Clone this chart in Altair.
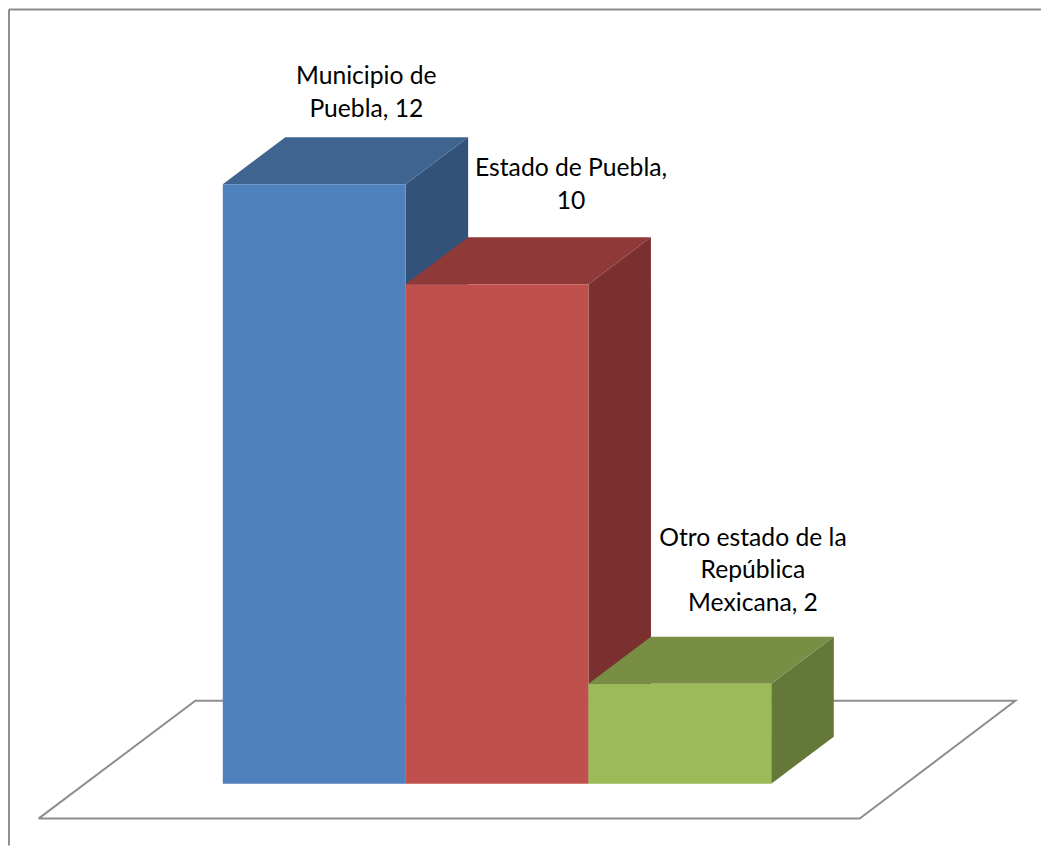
import altair as alt
import pandas as pd

# Series values
categories = ["Municipio de Puebla", "Estado de Puebla", "Otro estado de la República Mexicana"]
values = [12, 10, 2]
label_lines = ["Municipio de\nPuebla, 12", "Estado de Puebla,\n10", "Otro estado de la\nRepública\nMexicana, 2"]

# Face colours for each column: front, top, side
front_colors = ["#4F81BD", "#C0504D", "#9BBB59"]
top_colors = ["#3F648F", "#8F3A38", "#778E44"]
side_colors = ["#32527A", "#7A302F", "#64783A"]

# Oblique projection, in data units (column widths across, value units up)
DEPTH_X = 0.342
DEPTH_Y = 0.94

# Label anchors relative to each column's top front corner (first text line)
label_shift_x = [0.285, 0.405, 0.40]
label_shift_y = [2.14, 2.30, 2.90]

# Floor outline, in data units
floor_x = [-1.008, -0.15, 4.335, 3.484, -1.008]
floor_y = [-0.70, 1.66, 1.66, -0.70, -0.70]

WIDTH, HEIGHT = 1042, 846
PX_X, PX_Y = 183.0, 50.0
x_scale = alt.Scale(domain=[-223 / PX_X, (WIDTH - 223) / PX_X], nice=False, zero=False)
y_scale = alt.Scale(domain=[-(HEIGHT - 784) / PX_Y, 784 / PX_Y], nice=False, zero=False)


def X(field):
    return alt.X(field, type="quantitative", scale=x_scale, axis=None, title=None)


def Y(field):
    return alt.Y(field, type="quantitative", scale=y_scale, axis=None, title=None)


layers = []

# Chart frame: only the top and left edges fall inside the page
frame_color = "#8E8E8E"
layers.append(alt.Chart(pd.DataFrame({"a": [0]})).mark_rule(color=frame_color, strokeWidth=2).encode(
    x=alt.value(9), x2=alt.value(WIDTH), y=alt.value(9)))
layers.append(alt.Chart(pd.DataFrame({"a": [0]})).mark_rule(color=frame_color, strokeWidth=2).encode(
    x=alt.value(9), y=alt.value(9), y2=alt.value(HEIGHT)))

# Floor
floor = pd.DataFrame({"x": floor_x, "y": floor_y, "o": range(len(floor_x))})
layers.append(alt.Chart(floor).mark_line(color=frame_color, strokeWidth=2, strokeJoin="miter").encode(
    x=X("x"), y=Y("y"), order=alt.Order("o:Q")))

# Columns, drawn left to right so each one overlaps the previous side face
for i, v in enumerate(values):
    side = pd.DataFrame({
        "x": [i + 1, i + 1 + DEPTH_X],
        "top": [v, v + DEPTH_Y],
        "bottom": [0, DEPTH_Y],
    })
    layers.append(alt.Chart(side).mark_area(color=side_colors[i], orient="vertical").encode(
        x=X("x"), y=Y("top"), y2=alt.Y2("bottom")))

    top = pd.DataFrame({
        "y": [v, v + DEPTH_Y],
        "left": [i, i + DEPTH_X],
        "right": [i + 1, i + 1 + DEPTH_X],
    })
    layers.append(alt.Chart(top).mark_area(color=top_colors[i], orient="horizontal").encode(
        y=Y("y"), x=X("left"), x2=alt.X2("right")))

    front = pd.DataFrame({"left": [i], "right": [i + 1], "value": [v], "base": [0]})
    layers.append(alt.Chart(front).mark_rect(color=front_colors[i]).encode(
        x=X("left"), x2=alt.X2("right"), y=Y("value"), y2=alt.Y2("base")))

# Data labels
labels = pd.DataFrame({
    "x": [i + 0.5 + label_shift_x[i] for i in range(len(values))],
    "y": [values[i] + label_shift_y[i] for i in range(len(values))],
    "text": label_lines,
})
layers.append(alt.Chart(labels).mark_text(
    font="Lato", fontSize=24.7, color="#000000", align="center", baseline="middle",
    lineBreak="\n", lineHeight=32.5,
).encode(x=X("x"), y=Y("y"), text="text:N"))

chart = alt.layer(*layers).properties(
    width=WIDTH, height=HEIGHT, padding=0, background="#FFFFFF",
).configure_view(stroke=None)

chart.save("out.html", embed_options={"renderer": "svg", "actions": False})
